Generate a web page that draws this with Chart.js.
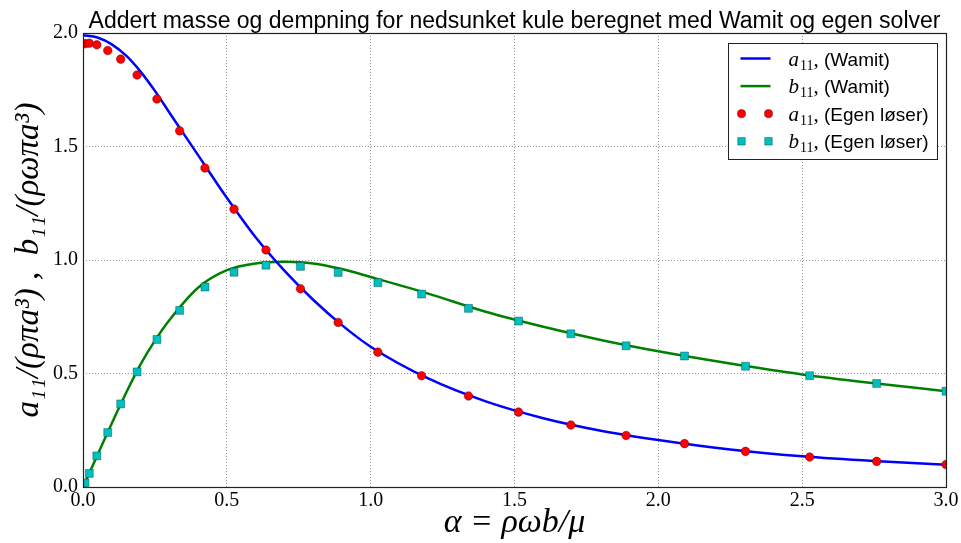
<!DOCTYPE html>
<html>
<head>
<meta charset="utf-8">
<script src="https://cdn.jsdelivr.net/npm/chart.js"></script>
<style>
  html, body { margin: 0; padding: 0; background: #fff; }
  #wrap { width: 961px; height: 543px; }
</style>
</head>
<body>
<div id="wrap"><canvas id="myChart" width="961" height="543"></canvas></div>
<script>
// Wamit curves
const wamitX = [0, 0.05, 0.1, 0.15, 0.2, 0.25, 0.3, 0.4, 0.5, 0.6, 0.7, 0.8, 0.9, 1.0, 1.2, 1.4, 1.6, 1.8, 2.0, 2.25, 2.5, 2.75, 3.0];
const wamitA = [1.99, 1.98, 1.95, 1.90, 1.83, 1.745, 1.650, 1.462, 1.274, 1.100, 0.953, 0.825, 0.713, 0.618, 0.478, 0.377, 0.303, 0.248, 0.207, 0.165, 0.135, 0.114, 0.098];
const wamitB = [0.0, 0.14, 0.28, 0.415, 0.54, 0.645, 0.735, 0.878, 0.955, 0.985, 0.992, 0.985, 0.960, 0.925, 0.852, 0.772, 0.706, 0.648, 0.598, 0.544, 0.496, 0.457, 0.422];

// own solver points
const egenX = [0.007, 0.022, 0.048, 0.086, 0.131, 0.188, 0.257, 0.336, 0.424, 0.525, 0.636, 0.756, 0.887, 1.025, 1.177, 1.340, 1.514, 1.696, 1.888, 2.091, 2.303, 2.526, 2.759, 3.0];
const egenA = [1.953, 1.955, 1.948, 1.923, 1.885, 1.815, 1.709, 1.569, 1.405, 1.224, 1.044, 0.873, 0.725, 0.594, 0.490, 0.401, 0.330, 0.273, 0.227, 0.191, 0.157, 0.132, 0.113, 0.099];
const egenB = [0.018, 0.060, 0.137, 0.240, 0.366, 0.507, 0.650, 0.778, 0.881, 0.946, 0.977, 0.972, 0.945, 0.900, 0.850, 0.787, 0.731, 0.675, 0.622, 0.577, 0.532, 0.490, 0.456, 0.422];

const xTicks = [0, 0.5, 1.0, 1.5, 2.0, 2.5, 3.0];
const yTicks = [0, 0.5, 1.0, 1.5, 2.0];

const titleText = 'Addert masse og dempning for nedsunket kule beregnet med Wamit og egen solver';
const legendSym = ['a', 'b', 'a', 'b'];
const legendSrc = [' (Wamit)', ' (Wamit)', ' (Egen løser)', ' (Egen løser)'];

const pts = (xs, ys) => xs.map((x, i) => ({ x: x, y: ys[i] }));

const serif = "'Liberation Serif', 'DejaVu Serif', serif";
const sans = "'Liberation Sans', Arial, sans-serif";

// title, axes frame and legend drawn on the canvas
const decor = {
    id: 'decor',
    afterDatasetsDraw(chart) {
        const c = chart.ctx;
        const a = chart.chartArea;
        c.save();
        c.strokeStyle = '#222';
        c.lineWidth = 1.2;
        c.strokeRect(Math.round(a.left) + 0.5, Math.round(a.top) + 0.5,
                     Math.round(a.right - a.left), Math.round(a.bottom - a.top));

        c.fillStyle = '#000';
        c.font = '23px ' + sans;
        c.textAlign = 'center';
        c.textBaseline = 'alphabetic';
        c.fillText(titleText, (a.left + a.right) / 2, 28);

        // legend
        const bw = 209, bh = 116;
        const bx = Math.round(a.right - 9 - bw) + 0.5;
        const by = Math.round(a.top + 10) + 0.5;
        c.fillStyle = '#fff';
        c.fillRect(bx, by, bw, bh);
        c.strokeStyle = '#222';
        c.lineWidth = 1;
        c.strokeRect(bx, by, bw, bh);

        chart.data.datasets.forEach((ds, i) => {
            const cy = by + 15 + 27.6 * i;
            if (ds.showLine !== false) {
                c.strokeStyle = ds.borderColor;
                c.lineWidth = ds.borderWidth;
                c.beginPath();
                c.moveTo(bx + 12, cy);
                c.lineTo(bx + 42, cy);
                c.stroke();
            } else {
                c.fillStyle = ds.pointBackgroundColor;
                c.strokeStyle = ds.pointBorderColor;
                c.lineWidth = ds.pointBorderWidth;
                [bx + 13, bx + 40].forEach(px => {
                    Chart.helpers.drawPoint(c, {
                        pointStyle: ds.pointStyle, radius: ds.pointRadius * 0.95,
                        rotation: 0, borderWidth: ds.pointBorderWidth
                    }, px, cy);
                });
            }
            let tx = bx + 60;
            const base = cy + 7;
            c.fillStyle = '#000';
            c.textAlign = 'left';
            c.font = 'italic 21px ' + serif;
            c.fillText(legendSym[i], tx, base);
            tx += c.measureText(legendSym[i]).width + 1;
            c.font = '14px ' + serif;
            c.fillText('11', tx, base + 4);
            tx += c.measureText('11').width;
            c.font = '21px ' + serif;
            c.fillText(',', tx, base);
            tx += c.measureText(',').width;
            c.font = '19px ' + sans;
            c.fillText(legendSrc[i], tx, base);
        });
        c.restore();
    }
};

const ctx = document.getElementById('myChart').getContext('2d');
const chart = new Chart(ctx, {
    type: 'line',
    data: {
        datasets: [{
            label: 'a11, (Wamit)',
            data: pts(wamitX, wamitA),
            borderColor: '#0000ff',
            borderWidth: 2.5,
            pointRadius: 0,
            cubicInterpolationMode: 'monotone',
            order: 2
        }, {
            label: 'b11, (Wamit)',
            data: pts(wamitX, wamitB),
            borderColor: '#008000',
            borderWidth: 2.5,
            pointRadius: 0,
            cubicInterpolationMode: 'monotone',
            order: 3
        }, {
            label: 'a11, (Egen løser)',
            data: pts(egenX, egenA),
            showLine: false,
            pointStyle: 'circle',
            pointRadius: 4.3,
            pointBackgroundColor: '#ff0000',
            pointBorderColor: 'rgba(60,0,0,0.7)',
            pointBorderWidth: 0.6,
            clip: 0,
            order: 1
        }, {
            label: 'b11, (Egen løser)',
            data: pts(egenX, egenB),
            showLine: false,
            pointStyle: 'rect',
            pointRadius: 5.6,
            pointBackgroundColor: '#00bfbf',
            pointBorderColor: 'rgba(0,60,60,0.7)',
            pointBorderWidth: 0.6,
            clip: 0,
            order: 0
        }]
    },
    options: {
        responsive: false,
        animation: false,
        layout: { padding: { top: 33, right: 15, left: 0, bottom: 0 } },
        plugins: {
            legend: { display: false },
            tooltip: { enabled: false }
        },
        scales: {
            x: {
                type: 'linear',
                min: 0,
                max: 3,
                afterBuildTicks: s => { s.ticks = xTicks.map(v => ({ value: v })); },
                afterFit: s => { s.height = 56; s.paddingLeft = 0; s.paddingRight = 0; },
                ticks: {
                    autoSkip: false,
                    maxRotation: 0,
                    padding: 2,
                    color: '#000',
                    font: { family: serif, size: 20 },
                    callback: v => v.toFixed(1)
                },
                grid: { color: 'rgba(0,0,0,0.4)', lineWidth: 1, drawTicks: false },
                border: { display: false, dash: [1, 2] },
                title: {
                    display: true,
                    text: 'α = ρωb/μ',
                    color: '#000',
                    font: { family: serif, size: 34, style: 'italic' },
                    padding: { top: 0, bottom: 0 }
                }
            },
            y: {
                min: 0,
                max: 2,
                afterBuildTicks: s => { s.ticks = yTicks.map(v => ({ value: v })); },
                afterFit: s => { s.width = 83; s.paddingTop = 0; s.paddingBottom = 0; },
                ticks: {
                    padding: 5,
                    color: '#000',
                    font: { family: serif, size: 20 },
                    callback: v => v.toFixed(1)
                },
                grid: { color: 'rgba(0,0,0,0.4)', lineWidth: 1, drawTicks: false },
                border: { display: false, dash: [1, 2] },
                title: {
                    display: true,
                    text: 'a₁₁/(ρπa³) ,  b₁₁/(ρωπa³)',
                    color: '#000',
                    font: { family: serif, size: 33, style: 'italic' },
                    padding: { top: 10, bottom: 0 }
                }
            }
        }
    },
    plugins: [decor]
});
</script>
</body>
</html>
